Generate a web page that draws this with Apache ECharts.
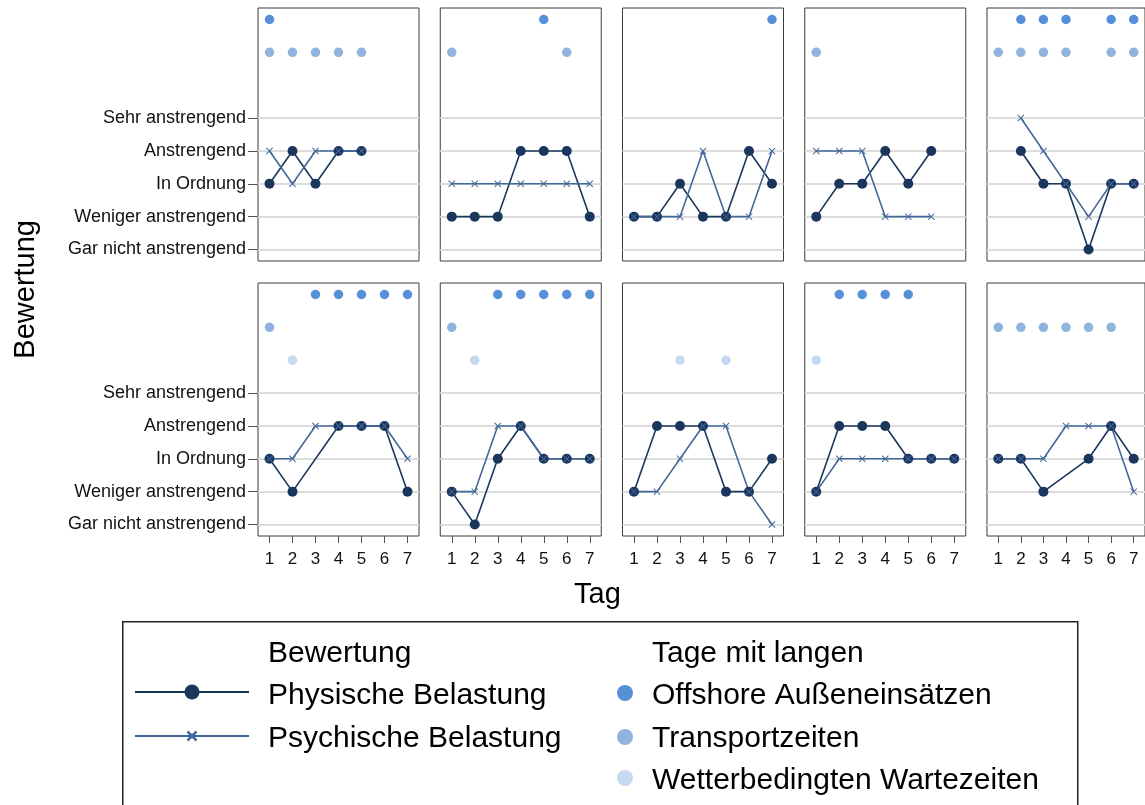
<!DOCTYPE html>
<html>
<head>
<meta charset="utf-8">
<script src="https://cdn.jsdelivr.net/npm/echarts@6/dist/echarts.min.js"></script>
<style>
  html, body { margin: 0; padding: 0; background: #fff; }
  #chart { width: 1145px; height: 805px; }
</style>
</head>
<body>
<div id="chart"></div>
<script>
// Tage (x-Achse)
const days = ["1", "2", "3", "4", "5", "6", "7"];
// Bewertungsskala 1..5
const ratingLabels = ["Gar nicht anstrengend", "Weniger anstrengend", "In Ordnung", "Anstrengend", "Sehr anstrengend"];

// Physische Belastung je Panel (10 Personen)
const physisch = [
  [3, 4, 3, 4, 4, null, null],
  [2, 2, 2, 4, 4, 4, 2],
  [2, 2, 3, 2, 2, 4, 3],
  [2, 3, 3, 4, 3, 4, null],
  [null, 4, 3, 3, 1, 3, 3],
  [3, 2, null, 4, 4, 4, 2],
  [2, 1, 3, 4, 3, 3, 3],
  [2, 4, 4, 4, 2, 2, 3],
  [2, 4, 4, 4, 3, 3, 3],
  [3, 3, 2, null, 3, 4, 3]
];
// Psychische Belastung je Panel
const psychisch = [
  [4, 3, 4, 4, 4, null, null],
  [3, 3, 3, 3, 3, 3, 3],
  [2, 2, 2, 4, 2, 2, 4],
  [4, 4, 4, 2, 2, 2, null],
  [null, 5, 4, 3, 2, 3, 3],
  [3, 3, 4, 4, 4, 4, 3],
  [2, 2, 4, 4, 3, 3, 3],
  [2, 2, 3, 4, 4, 2, 1],
  [2, 3, 3, 3, 3, 3, 3],
  [3, 3, 3, 4, 4, 4, 2]
];
// Tage mit langen ...
const offshoreDays = [[1], [5], [7], [], [2, 3, 4, 6, 7], [3, 4, 5, 6, 7], [3, 4, 5, 6, 7], [], [2, 3, 4, 5], []];
const transportDays = [[1, 2, 3, 4, 5], [1, 6], [], [1], [1, 2, 3, 4, 6, 7], [1], [1], [], [], [1, 2, 3, 4, 5, 6]];
const weatherDays = [[], [], [], [], [], [2], [2], [3, 5], [1], []];

// Zeilen für die Punktreihen oberhalb der Skala
const offshoreLevel = 8;
const transportLevel = 7;
const weatherLevel = 6;

const colPhys = "#1b365d";
const colPsych = "#42689a";
const colOffshore = "#5590d8";
const colTransport = "#8fb4df";
const colWeather = "#c6d9f0";
const font = "Liberation Sans, Arial, sans-serif";
const crossPath = "path://M1,0 L5,4 L9,0 L10,1 L6,5 L10,9 L9,10 L5,6 L1,10 L0,9 L4,5 L0,1 Z";

const grids = [], xAxes = [], yAxes = [], series = [];
for (let i = 0; i < 10; i++) {
  const row = Math.floor(i / 5);
  const col = i % 5;
  grids.push({
    left: 258 + col * 182.25,
    top: row === 0 ? 8 : 283,
    width: 161,
    height: 253,
    show: true,
    borderColor: "#3c3c3c",
    borderWidth: 1,
    backgroundColor: "transparent"
  });
  xAxes.push({
    type: "category",
    gridIndex: i,
    data: days,
    boundaryGap: true,
    axisLine: { show: false },
    axisTick: { show: row === 1, alignWithLabel: true, length: 7, lineStyle: { color: "#555", width: 1 } },
    axisLabel: { show: row === 1, margin: 15, fontSize: 17, color: "#111", fontFamily: font },
    splitLine: { show: false }
  });
  yAxes.push({
    type: "value",
    gridIndex: i,
    min: 0.65,
    max: 8.35,
    axisLine: { show: false },
    axisTick: { show: col === 0, customValues: [1, 2, 3, 4, 5], length: 10, lineStyle: { color: "#555", width: 1 } },
    axisLabel: {
      show: col === 0,
      customValues: [1, 2, 3, 4, 5],
      margin: 12,
      fontSize: 18,
      color: "#111",
      fontFamily: font,
      formatter: (v) => ratingLabels[Math.round(v) - 1] || ""
    },
    splitLine: { show: true, lineStyle: { color: "#dcdcdc", width: 2 } }
  });
  const dots = (list, level, color) => ({
    type: "scatter",
    xAxisIndex: i,
    yAxisIndex: i,
    symbol: "circle",
    symbolSize: 9.5,
    itemStyle: { color: color, opacity: 1 },
    data: list[i].map((d) => [d - 1, level]),
    silent: true
  });
  series.push(dots(offshoreDays, offshoreLevel, colOffshore));
  series.push(dots(transportDays, transportLevel, colTransport));
  series.push(dots(weatherDays, weatherLevel, colWeather));
  series.push({
    type: "line",
    xAxisIndex: i,
    yAxisIndex: i,
    data: physisch[i],
    connectNulls: true,
    symbol: "circle",
    symbolSize: 10,
    showAllSymbol: true,
    lineStyle: { color: colPhys, width: 1.6 },
    itemStyle: { color: colPhys },
    silent: true
  });
  series.push({
    type: "line",
    xAxisIndex: i,
    yAxisIndex: i,
    data: psychisch[i],
    connectNulls: true,
    symbol: crossPath,
    symbolSize: 7,
    showAllSymbol: true,
    lineStyle: { color: colPsych, width: 1.6 },
    itemStyle: { color: colPsych },
    silent: true
  });
}

// Legende unten
const legendText = (x, y, text) => ({
  type: "text", left: x, top: y,
  style: { text: text, font: "30px " + font, fill: "#000", textVerticalAlign: "middle" }
});
const graphic = [
  {
    type: "text", left: 11, top: 220, rotation: Math.PI / 2,
    style: { text: "Bewertung", font: "29px " + font, fill: "#000" }
  },
  {
    type: "text", left: 574, top: 580,
    style: { text: "Tag", font: "29px " + font, fill: "#000" }
  },
  {
    type: "rect", left: 122, top: 621,
    shape: { width: 955, height: 220 },
    style: { fill: "#fff", stroke: "#222", lineWidth: 1.5 }
  },
  legendText(268, 639, "Bewertung"),
  legendText(268, 681, "Physische Belastung"),
  legendText(268, 724, "Psychische Belastung"),
  legendText(652, 639, "Tage mit langen"),
  legendText(652, 681, "Offshore Außeneinsätzen"),
  legendText(652, 724, "Transportzeiten"),
  legendText(652, 766, "Wetterbedingten Wartezeiten"),
  { type: "line", shape: { x1: 135, y1: 692, x2: 249, y2: 692 }, style: { stroke: colPhys, lineWidth: 2 } },
  { type: "circle", shape: { cx: 192, cy: 692, r: 7.5 }, style: { fill: colPhys } },
  { type: "line", shape: { x1: 135, y1: 736, x2: 249, y2: 736 }, style: { stroke: colPsych, lineWidth: 2 } },
  { type: "line", shape: { x1: 187.5, y1: 731.5, x2: 196.5, y2: 740.5 }, style: { stroke: colPsych, lineWidth: 2.5 } },
  { type: "line", shape: { x1: 196.5, y1: 731.5, x2: 187.5, y2: 740.5 }, style: { stroke: colPsych, lineWidth: 2.5 } },
  { type: "circle", shape: { cx: 625, cy: 693, r: 8 }, style: { fill: colOffshore } },
  { type: "circle", shape: { cx: 625, cy: 737, r: 8 }, style: { fill: colTransport } },
  { type: "circle", shape: { cx: 625, cy: 778, r: 8 }, style: { fill: colWeather } }
];

const chart = echarts.init(document.getElementById("chart"), null, { renderer: "canvas" });
chart.setOption({
  animation: false,
  backgroundColor: "#fff",
  grid: grids,
  xAxis: xAxes,
  yAxis: yAxes,
  series: series,
  graphic: graphic
});
</script>
</body>
</html>
